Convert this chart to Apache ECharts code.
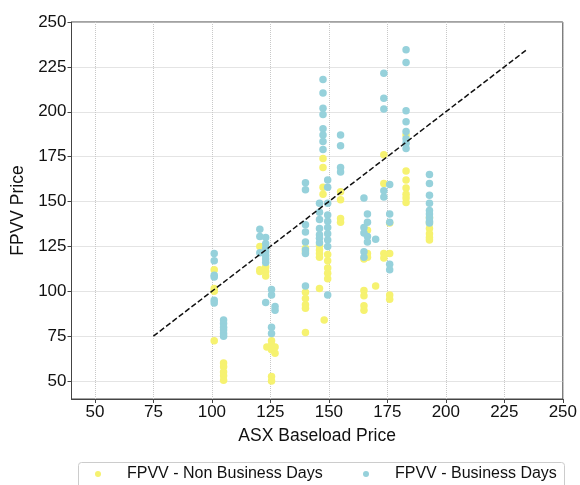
<!DOCTYPE html>
<html>
<head>
<meta charset="utf-8">
<script src="https://cdn.jsdelivr.net/npm/echarts@6/dist/echarts.min.js"></script>
<style>html,body{margin:0;padding:0;background:#fff;}#c{width:580px;height:485px;}</style>
</head>
<body>
<div id="c"></div>
<script>
// ---- data ----
const xTicks = [50, 75, 100, 125, 150, 175, 200, 225, 250];
const yTicks = [50, 75, 100, 125, 150, 175, 200, 225, 250];
const seriesNames = ['FPVV - Non Business Days', 'FPVV - Business Days'];
const parityLine = [[75, 75], [235, 235]];

const nonBusinessDays = [
  [101, 112], [101, 101.5], [101, 100], [101, 72.5],
  [105, 60], [105, 58], [105, 55], [105, 53], [105, 50.5],
  [120.5, 125], [120.5, 112], [120.5, 111],
  [123, 113.5], [123, 111], [123, 108.5], [123.5, 69],
  [125.5, 72.5], [125.5, 70], [125.5, 67.5], [125.5, 52.5], [125.5, 50],
  [127, 69], [127, 65.5],
  [140, 124], [140, 122], [140, 99.5], [140, 96], [140, 92.5], [140, 90.5], [140, 77],
  [146, 125.5], [146, 123], [146, 121], [146, 119], [146, 101.5],
  [147.5, 174], [147.5, 169], [147.5, 158], [147.5, 154], [148, 84],
  [149.5, 120.5], [149.5, 117], [149.5, 113], [149.5, 110], [149.5, 107],
  [155, 155.5], [155, 151], [155, 140.5], [155, 138.5],
  [165, 118], [165, 100.5], [165, 97.5], [165, 92], [165, 89.5],
  [166.5, 134], [166.5, 121], [166.5, 119],
  [170, 103],
  [173.5, 176], [173.5, 160], [173.5, 121], [173.5, 118.5],
  [176, 138], [176, 121], [176, 98], [176, 95.5],
  [183, 187], [183, 167], [183, 162], [183, 157.5], [183, 154], [183, 152], [183, 149.5],
  [193, 141], [193, 138], [193, 135], [193, 132], [193, 130], [193, 128.5]
];

const businessDays = [
  [101, 121], [101, 117], [101, 109], [101, 108], [101, 95], [101, 93.5],
  [105, 84], [105, 82], [105, 80], [105, 78.5], [105, 76.5], [105, 75],
  [120.5, 134.5], [120.5, 130.5], [120.5, 121.5],
  [123, 130], [123, 126.5], [123, 124], [123, 122], [123, 120], [123, 118], [123, 116], [123, 93.8],
  [125.5, 101], [125.5, 98], [125.5, 80], [125.5, 76.5],
  [127, 91.5], [127, 89.5],
  [140, 160.5], [140, 156.5], [140, 137], [140, 133], [140, 127.5], [140, 123], [140, 121], [140, 103],
  [146, 149], [146, 144], [146, 140], [146, 135], [146, 131.5], [146, 129.5], [146, 127],
  [147.5, 218], [147.5, 210.5], [147.5, 202], [147.5, 198.5], [147.5, 190.5], [147.5, 187], [147.5, 183.5], [147.5, 179],
  [149.5, 162], [149.5, 158], [149.5, 149], [149.5, 142.5], [149.5, 139], [149.5, 135.5], [149.5, 132], [149.5, 128.5], [149.5, 125], [149.5, 98],
  [155, 187], [155, 181], [155, 169], [155, 166.5],
  [165, 152], [165, 135.5], [165, 132.5], [165, 122], [165, 119],
  [166.5, 143], [166.5, 138.5], [166.5, 130.5], [166.5, 127.5],
  [170, 129],
  [173.5, 221.5], [173.5, 207.5], [173.5, 201.5], [173.5, 156], [173.5, 152.5],
  [176, 159.5], [176, 143], [176, 138.5], [176, 115], [176, 112],
  [183, 234.5], [183, 227.5], [183, 200.5], [183, 194.5], [183, 189], [183, 185], [183, 182.5], [183, 179.5],
  [193, 165], [193, 160], [193, 153.5], [193, 149], [193, 145], [193, 143], [193, 141], [193, 139], [193, 138]
];

// ---- chart ----
const yellow = '#f6f270';
const cyan = '#96d1db';
const font = '"Liberation Sans", Arial, sans-serif';

const chart = echarts.init(document.getElementById('c'), null, {renderer: 'canvas'});

function axisCommon(ticks, name, gap, rotate) {
  return {
    type: 'value', min: 40, max: 250,
    name: name, nameLocation: 'middle', nameGap: gap, nameRotate: rotate,
    nameTextStyle: {fontFamily: font, fontSize: 17.5, color: '#111'},
    axisLine: {show: true, onZero: false, lineStyle: {color: '#444', width: 1}},
    axisTick: {show: true, inside: false, length: 4, customValues: ticks, lineStyle: {color: '#444'}},
    axisLabel: {show: true, customValues: ticks, fontFamily: font, fontSize: 17, color: '#111', margin: 5},
    splitLine: {show: true, lineStyle: {color: '#c8c8c8', type: [1, 1], width: 1}}
  };
}

const legendText = {fontFamily: font, fontSize: 16, color: '#111', padding: [0, 0, 0, 21]};

chart.setOption({
  animation: false,
  backgroundColor: '#fff',
  grid: {left: 71.5, right: 15, top: 22, bottom: 86, show: true, borderColor: '#444', borderWidth: 1},
  xAxis: axisCommon(xTicks, 'ASX Baseload Price', 28, 0),
  yAxis: axisCommon(yTicks, 'FPVV Price', 44, 90),
  legend: [
    {data: [seriesNames[0]], left: 95, top: 466, padding: 0, itemWidth: 6, itemHeight: 6, icon: 'circle',
     textStyle: legendText},
    {data: [seriesNames[1]], left: 363, top: 466, padding: 0, itemWidth: 6, itemHeight: 6, icon: 'circle',
     textStyle: legendText}
  ],
  graphic: [{
    type: 'rect', left: 76, top: 460, silent: true,
    shape: {width: 486, height: 40, r: 3},
    style: {fill: 'none', stroke: '#cccccc', lineWidth: 1}
  }],
  series: [
    {name: seriesNames[0], type: 'scatter', data: nonBusinessDays, symbolSize: 7.5,
     itemStyle: {color: yellow, opacity: 1}, z: 2},
    {name: seriesNames[1], type: 'scatter', data: businessDays, symbolSize: 7.5,
     itemStyle: {color: cyan, opacity: 1}, z: 3},
    {name: 'parity', type: 'line', data: parityLine, symbol: 'none', silent: true,
     lineStyle: {color: '#111', width: 1.5, type: [5.5, 2.5]}, z: 4}
  ]
});
</script>
</body>
</html>
